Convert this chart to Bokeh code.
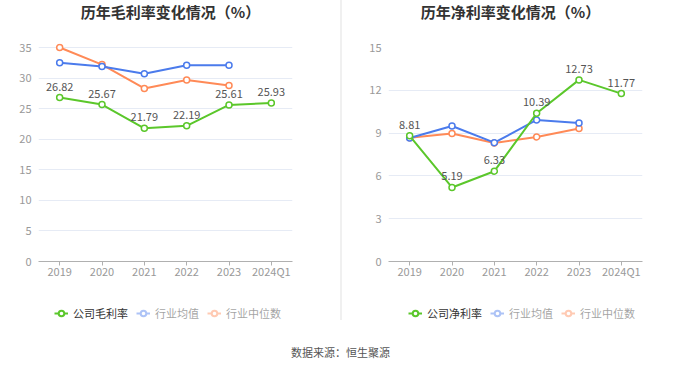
from bokeh.plotting import figure
from bokeh.models import (FactorRange, Range1d, FixedTicker, Label, Legend, LegendItem, Div)
from bokeh.layouts import row, column
from bokeh.core.properties import value
from bokeh.embed import file_html
from bokeh.resources import INLINE

# ---- data ----
years = ["2019", "2020", "2021", "2022", "2023", "2024Q1"]
gross_company = [26.82, 25.67, 21.79, 22.19, 25.61, 25.93]
gross_ind_avg = [32.5, 31.9, 30.7, 32.1, 32.1]
gross_ind_med = [35.0, 32.2, 28.3, 29.7, 28.8]
net_company = [8.81, 5.19, 6.33, 10.39, 12.73, 11.77]
net_ind_avg = [8.66, 9.5, 8.33, 9.92, 9.71]
net_ind_med = [8.68, 8.97, 8.3, 8.73, 9.32]
gross_ticks = [0, 5, 10, 15, 20, 25, 30, 35]
net_ticks = [0, 3, 6, 9, 12, 15]

GREEN = "#5BC72B"
BLUE = "#4B7BEC"
ORANGE = "#FF8A57"
FONT = "Noto Sans CJK SC"


def blank(width, height, x_range=None):
    f = figure(width=width, height=height,
               x_range=x_range if x_range is not None else Range1d(0, 1),
               y_range=Range1d(-2, -1),
               min_border=0, x_axis_location=None, y_axis_location=None,
               output_backend="svg", toolbar_location=None,
               background_fill_color="white", border_fill_color="white")
    f.grid.visible = False
    f.outline_line_color = None
    return f


def make_panel(width, title, title_x, company, avg, med, ticks, y_end, frame_h, top,
               left, legend_name, legend_x):
    # title strip (its frame is aligned with the chart frame by the column layout)
    t = blank(width, 40)
    t.add_layout(Label(x=title_x, y=29, x_units="screen", y_units="screen", text=title,
                       text_align="center", text_baseline="middle",
                       text_font_size="15px", text_font_style="bold",
                       text_color="#333333", text_font=FONT))

    right = width - left - 254
    bottom = 250 - top - frame_h
    p = figure(x_range=FactorRange(*years), y_range=Range1d(0, y_end),
               frame_width=254, frame_height=frame_h,
               width=width, height=250,
               min_border_left=left, min_border_right=right,
               min_border_top=top, min_border_bottom=bottom,
               output_backend="svg", toolbar_location=None,
               background_fill_color="white", border_fill_color="white")
    p.outline_line_color = None
    p.xgrid.grid_line_color = None
    p.ygrid.grid_line_color = "#E6EBF5"
    p.ygrid.grid_line_width = 1
    p.yaxis.ticker = FixedTicker(ticks=ticks)
    p.yaxis.axis_line_color = None
    p.yaxis.major_tick_line_color = None
    p.yaxis.minor_tick_line_color = None
    p.yaxis.major_label_standoff = 7
    p.yaxis.major_tick_out = 0
    p.xaxis.axis_line_color = "#B0B0B0"
    p.xaxis.major_tick_line_color = "#B0B0B0"
    p.xaxis.major_tick_out = 4
    p.xaxis.major_tick_in = 0
    p.xaxis.major_label_standoff = -3
    for ax in (p.xaxis, p.yaxis):
        ax.major_label_text_color = "#999999"
        ax.major_label_text_font_size = "11px"
        ax.major_label_text_font = FONT

    ind_years = years[:len(avg)]
    p.line(ind_years, med, line_color=ORANGE, line_width=2)
    p.scatter(ind_years, med, size=6, marker="circle", line_color=ORANGE,
              fill_color="white", line_width=1.5)
    p.line(ind_years, avg, line_color=BLUE, line_width=2)
    p.scatter(ind_years, avg, size=6, marker="circle", line_color=BLUE,
              fill_color="white", line_width=1.5)
    p.line(years, company, line_color=GREEN, line_width=2)
    p.scatter(years, company, size=6, marker="circle", line_color=GREEN,
              fill_color="white", line_width=1.5)
    p.text(years, company, text=[f"{v:.2f}" for v in company],
           text_align="center", text_baseline="bottom", y_offset=-7,
           text_font_size="11px", text_color="#555555", text_font=value(FONT))

    # legend strip: series renderers outside its (empty) y range, used only for icons
    lg = blank(width, 40, x_range=FactorRange(*years))
    lg_c = [lg.line(years, company, line_color=GREEN, line_width=2),
            lg.scatter(years, company, size=9, marker="circle", line_color=GREEN,
                       fill_color="white", line_width=2)]
    lg_a = [lg.line(ind_years, avg, line_color=BLUE, line_width=2, visible=False),
            lg.scatter(ind_years, avg, size=9, marker="circle", line_color=BLUE,
                       fill_color="white", line_width=2, visible=False)]
    lg_m = [lg.line(ind_years, med, line_color=ORANGE, line_width=2, visible=False),
            lg.scatter(ind_years, med, size=9, marker="circle", line_color=ORANGE,
                       fill_color="white", line_width=2, visible=False)]
    legend = Legend(items=[LegendItem(label=legend_name, renderers=lg_c),
                           LegendItem(label="行业均值", renderers=lg_a),
                           LegendItem(label="行业中位数", renderers=lg_m)],
                    orientation="horizontal", location=(legend_x, 9),
                    click_policy="hide", glyph_width=14, glyph_height=14,
                    label_height=14, label_standoff=5, spacing=8, padding=0,
                    margin=0, border_line_color=None, background_fill_alpha=0,
                    label_text_font_size="11px", label_text_color="#333333",
                    label_text_font=FONT, inactive_fill_color="white",
                    inactive_fill_alpha=0.55)
    lg.add_layout(legend, "center")

    return column(t, p, lg, spacing=0)


left_panel = make_panel(340, "历年毛利率变化情况（%）", 132, gross_company, gross_ind_avg,
                        gross_ind_med, gross_ticks, 218 / (214 / 35), 218, 3, 38,
                        "公司毛利率", 16)
right_panel = make_panel(338, "历年净利率变化情况（%）", 122, net_company, net_ind_avg,
                         net_ind_med, net_ticks, 15, 214, 7, 46, "公司净利率", 20)

divider = Div(width=2, height=320, margin=0,
              styles={"background-color": "#F0F0F0"})

src = blank(680, 37)
src.add_layout(Label(x=340, y=16, x_units="screen", y_units="screen",
                     text="数据来源：恒生聚源", text_align="center",
                     text_baseline="middle", text_font_size="11px",
                     text_color="#555555", text_font=FONT))

layout = column(row(left_panel, divider, right_panel, spacing=0), src, spacing=0)
open("out.html", "w").write(file_html(layout, INLINE))
